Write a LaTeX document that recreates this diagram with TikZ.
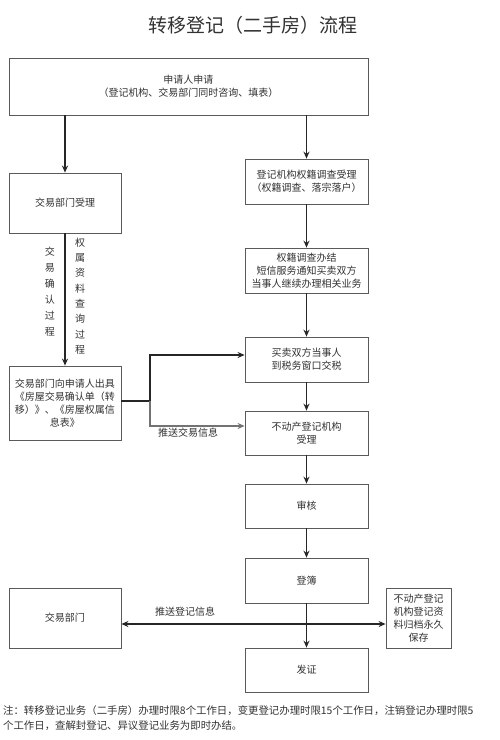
\documentclass[tikz,border=0pt]{standalone}
\usepackage{fontspec}
\setmainfont{Noto Sans CJK SC}
\usepackage{xcolor}
\usetikzlibrary{positioning,calc,arrows.meta}
\definecolor{boxline}{RGB}{90,90,90}
\definecolor{textgray}{RGB}{50,50,50}

\tikzset{
  box/.style={draw=boxline, line width=0.8pt, rectangle, align=center, text=textgray,
    font=\fontsize{10}{13}\selectfont, inner sep=1pt},
  flow/.style={->, >={Stealth[length=7pt,width=6pt]}, line width=1.6pt, draw=black!85},
  link/.style={line width=1.6pt, draw=black!85},
  lbl/.style={text=textgray, font=\fontsize{10}{13}\selectfont, inner sep=1pt}
}

\begin{document}
\begin{tikzpicture}[x=1pt, y=-1pt]
				\useasboundingbox (0,0) rectangle (500,740);
				\fill[white] (0,0) rectangle (500,740);
				\node[text=textgray, font=\fontsize{19}{21}\selectfont] (title) at (253,25) {转移登记（二手房）流程};
				% left column
				\node[box, minimum width=359pt, minimum height=57pt] (apply) at (188.5,86.5) {申请人申请\\（登记机构、交易部门同时咨询、填表）};
				\node[box, minimum width=112pt, minimum height=60pt] (deal) at (65,203) {交易部门受理};
				\node[box, minimum width=112pt, minimum height=74pt] (issue) at (65,403) {交易部门向申请人出具\\《房屋交易确认单（转\\移）》、《房屋权属信\\息表》};
				\node[box, minimum width=112pt, minimum height=60pt] (dept) at (65,618) {交易部门};
				% right column
				\node[box, minimum width=123pt, minimum height=45pt] (check) at (306.5,181.5) {登记机构权籍调查受理\\（权籍调查、落宗落户）};
				\node[box, minimum width=123pt, minimum height=45pt] (done) at (306.5,270.5) {权籍调查办结\\短信服务通知买卖双方\\当事人继续办理相关业务};
				\node[box, minimum width=123pt, minimum height=45pt] (tax) at (306.5,359.5) {买卖双方当事人\\到税务窗口交税};
				\node[box, minimum width=123pt, minimum height=44pt] (accept) at (306.5,433) {不动产登记机构\\受理};
				\node[box, minimum width=123pt, minimum height=44pt] (audit) at (306.5,506) {审核};
				\node[box, minimum width=123pt, minimum height=45pt] (record) at (306.5,580.5) {登簿};
				\node[box, minimum width=123pt, minimum height=44pt] (cert) at (306.5,670) {发证};
				\node[box, minimum width=65pt, minimum height=60pt] (archive) at (418.5,618) {不动产登记\\机构登记资\\料归档永久\\保存};
				% vertical labels
				\node[lbl, align=center, font=\fontsize{10}{16}\selectfont] (confirm) at (50,292) {交\\易\\确\\认\\过\\程};
				\node[lbl, align=center, font=\fontsize{10}{15.3}\selectfont] (query) at (80,296) {权\\属\\资\\料\\查\\询\\过\\程};
				% connectors
				\draw[flow] (apply.south -| deal.north) -- (deal.north);
				\draw[flow] (apply.south -| check.north) -- (check.north);
				\draw[flow] (check) -- (done);
				\draw[flow] (done) -- (tax);
				\draw[flow] (deal) -- (issue);
				\coordinate (fork) at (150,401);
				\draw[link] (issue.east |- fork) -- (fork);
				\draw[flow] (fork) |- ([yshift=4.5pt]tax.west);
				\draw[flow, draw=black!55] (fork) |- ([yshift=7pt]accept.west);
				\node[lbl, anchor=north] (pushdeal) at (188,427) {推送交易信息};
				\draw[flow] (tax) -- (accept);
				\draw[flow] (accept) -- (audit);
				\draw[flow] (audit) -- (record);
				\draw[flow] (record) -- (cert);
				\draw[flow, <->] ([yshift=-6pt]dept.east) -- ([yshift=-6pt]archive.west);
				\node[lbl, anchor=south] (pushreg) at (185,618) {推送登记信息};
				% note
				\node[text=textgray, font=\fontsize{10.4}{15}\selectfont, align=left, anchor=north west, inner sep=0pt] (note) at (3,705)
				  {注：转移登记业务（二手房）办理时限8个工作日，变更登记办理时限15个工作日，注销登记办理时限5\\个工作日，查解封登记、异议登记业务为即时办结。};
			\end{tikzpicture}
\end{document}
